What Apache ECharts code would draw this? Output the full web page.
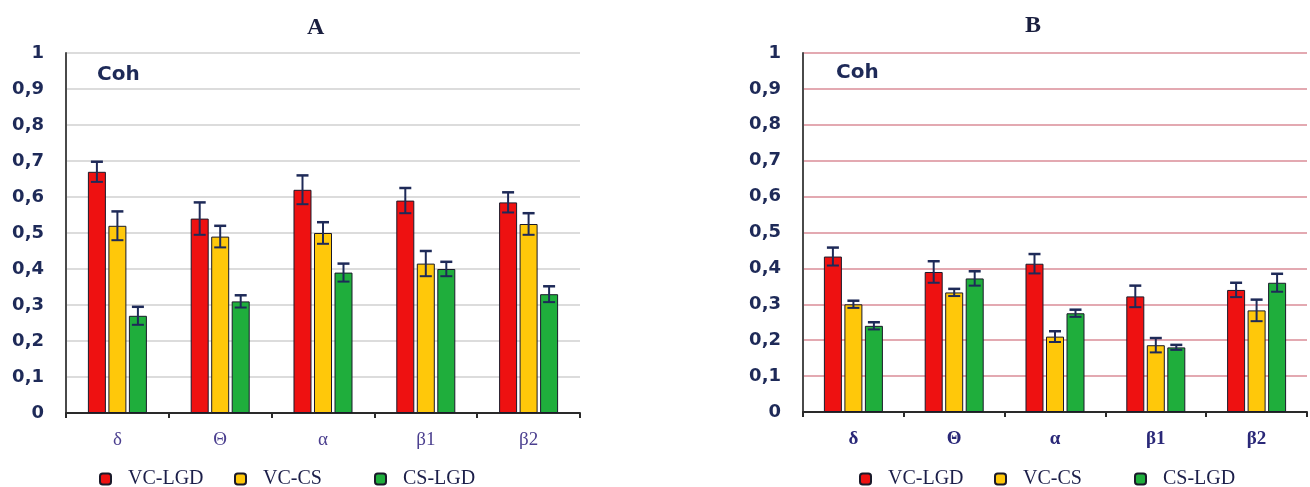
<!DOCTYPE html>
<html>
<head>
<meta charset="utf-8">
<script src="https://cdn.jsdelivr.net/npm/echarts@6/dist/echarts.min.js"></script>
<style>
  html, body { margin: 0; padding: 0; background: #ffffff; }
  #chart { width: 1310px; height: 487px; }
</style>
</head>
<body>
<div id="chart"></div>
<script>
// Coherence (Coh) per frequency band, two conditions A and B
const categories = ['δ', 'Θ', 'α', 'β1', 'β2'];
const seriesNames = ['VC-LGD', 'VC-CS', 'CS-LGD'];
const colors = ['#ee1111', '#ffc80a', '#1fae3c'];

// Panel A means and error magnitudes
const aVcLgd = [0.67, 0.54, 0.62, 0.59, 0.585];
const aVcCs = [0.52, 0.49, 0.50, 0.415, 0.525];
const aCsLgd = [0.27, 0.31, 0.39, 0.40, 0.33];
const aVcLgdErr = [0.028, 0.045, 0.04, 0.035, 0.028];
const aVcCsErr = [0.04, 0.03, 0.03, 0.035, 0.03];
const aCsLgdErr = [0.025, 0.017, 0.025, 0.02, 0.022];

// Panel B means and error magnitudes
const bVcLgd = [0.433, 0.39, 0.413, 0.322, 0.34];
const bVcCs = [0.30, 0.333, 0.21, 0.186, 0.283];
const bCsLgd = [0.24, 0.372, 0.275, 0.18, 0.36];
const bVcLgdErr = [0.025, 0.03, 0.027, 0.03, 0.02];
const bVcCsErr = [0.01, 0.01, 0.015, 0.02, 0.03];
const bCsLgdErr = [0.01, 0.02, 0.01, 0.007, 0.025];

const yTicks = { min: 0, max: 1, interval: 0.1 };

const BAR_W = 18;
const BAR_STEP = 20.5;   // centre-to-centre distance of bars within a group
const INK = '#1e2a58';

const panels = [
  { values: [aVcLgd, aVcCs, aCsLgd], errs: [aVcLgdErr, aVcCsErr, aCsLgdErr] },
  { values: [bVcLgd, bVcCs, bCsLgd], errs: [bVcLgdErr, bVcCsErr, bCsLgdErr] }
];

function errorBarRenderer(slot) {
  return function (params, api) {
    const idx = api.value(0);
    const v = api.value(1);
    const e = api.value(2);
    const dx = (slot - 1) * BAR_STEP;
    const top = api.coord([idx, v + e]);
    const bot = api.coord([idx, v - e]);
    const x = top[0] + dx;
    const cap = 6;
    const st = { stroke: INK, lineWidth: 2 };
    return {
      type: 'group',
      children: [
        { type: 'line', shape: { x1: x, y1: top[1], x2: x, y2: bot[1] }, style: st },
        { type: 'line', shape: { x1: x - cap, y1: top[1], x2: x + cap, y2: top[1] }, style: { stroke: INK, lineWidth: 2.5 } },
        { type: 'line', shape: { x1: x - cap, y1: bot[1], x2: x + cap, y2: bot[1] }, style: st }
      ]
    };
  };
}

const series = [];
panels.forEach(function (p, pi) {
  seriesNames.forEach(function (name, si) {
    series.push({
      name: name,
      type: 'bar',
      xAxisIndex: pi,
      yAxisIndex: pi,
      barWidth: BAR_W,
      barGap: ((BAR_STEP - BAR_W) / BAR_W * 100).toFixed(1) + '%',
      itemStyle: { color: colors[si], borderColor: '#1a1a2a', borderWidth: 1 },
      data: p.values[si],
      z: 2
    });
  });
  seriesNames.forEach(function (name, si) {
    series.push({
      name: name,
      type: 'custom',
      xAxisIndex: pi,
      yAxisIndex: pi,
      renderItem: errorBarRenderer(si),
      data: p.values[si].map(function (v, i) { return [i, v, p.errs[si][i]]; }),
      z: 5,
      silent: true
    });
  });
});

function yAxis(gi, gridColor) {
  return {
    type: 'value',
    gridIndex: gi,
    min: yTicks.min, max: yTicks.max, interval: yTicks.interval,
    axisLine: { show: true, lineStyle: { color: '#4a4a4a', width: 2 } },
    axisTick: { show: false },
    axisLabel: {
      margin: 22,
      color: INK,
      fontFamily: 'DejaVu Sans',
      fontWeight: 'bold',
      fontSize: 18,
      formatter: function (v) { return String(+v.toFixed(1)).replace('.', ','); }
    },
    splitLine: { show: true, lineStyle: { color: gridColor, width: 2 } }
  };
}

function xAxis(gi, bold, labelColor) {
  return {
    type: 'category',
    gridIndex: gi,
    data: categories,
    axisLine: { show: true, lineStyle: { color: '#2a2a2a', width: 2 } },
    axisTick: { show: true, length: 5, lineStyle: { color: '#2a2a2a', width: 2 } },
    axisLabel: {
      margin: 18,
      color: labelColor,
      fontFamily: 'Liberation Serif',
      fontWeight: bold ? 'bold' : 'normal',
      fontSize: 19
    }
  };
}

// one legend entry per series name, laid out in fixed slots under each panel
function legendItem(name, left) {
  return {
    left: left,
    top: 464,
    data: [name],
    icon: 'roundRect',
    itemWidth: 11,
    itemHeight: 11,
    selectedMode: false,
    textStyle: {
      color: '#1c1f4a',
      fontFamily: 'Liberation Serif',
      fontSize: 20,
      padding: [0, 0, 0, 12]
    }
  };
}

const legendSlotsA = [94, 229, 369];
const legendSlotsB = [854, 989, 1129];

const option = {
  animation: false,
  backgroundColor: '#ffffff',
  title: [
    { text: 'A', left: 302, top: 11, textStyle: { fontFamily: 'Liberation Serif', fontWeight: 'bold', fontSize: 24, color: '#1a1f3f' } },
    { text: 'B', left: 1020, top: 9, textStyle: { fontFamily: 'Liberation Serif', fontWeight: 'bold', fontSize: 24, color: '#1a1f3f' } },
    { text: 'Coh', left: 92, top: 60, textStyle: { fontFamily: 'DejaVu Sans', fontWeight: 'bold', fontSize: 20, color: INK } },
    { text: 'Coh', left: 831, top: 58, textStyle: { fontFamily: 'DejaVu Sans', fontWeight: 'bold', fontSize: 20, color: INK } }
  ],
  legend: seriesNames.map(function (n, i) { return legendItem(n, legendSlotsA[i]); })
    .concat(seriesNames.map(function (n, i) { return legendItem(n, legendSlotsB[i]); })),
  grid: [
    { left: 66, right: 1310 - 580, top: 53, bottom: 487 - 413 },
    { left: 803, right: 3, top: 53, bottom: 487 - 412 }
  ],
  xAxis: [xAxis(0, false, '#4b3f8f'), xAxis(1, true, '#2a2878')],
  yAxis: [yAxis(0, '#dcdcdc'), yAxis(1, '#e3a9b1')],
  series: series
};

const chart = echarts.init(document.getElementById('chart'), null, { renderer: 'canvas' });
chart.setOption(option);
</script>
</body>
</html>
